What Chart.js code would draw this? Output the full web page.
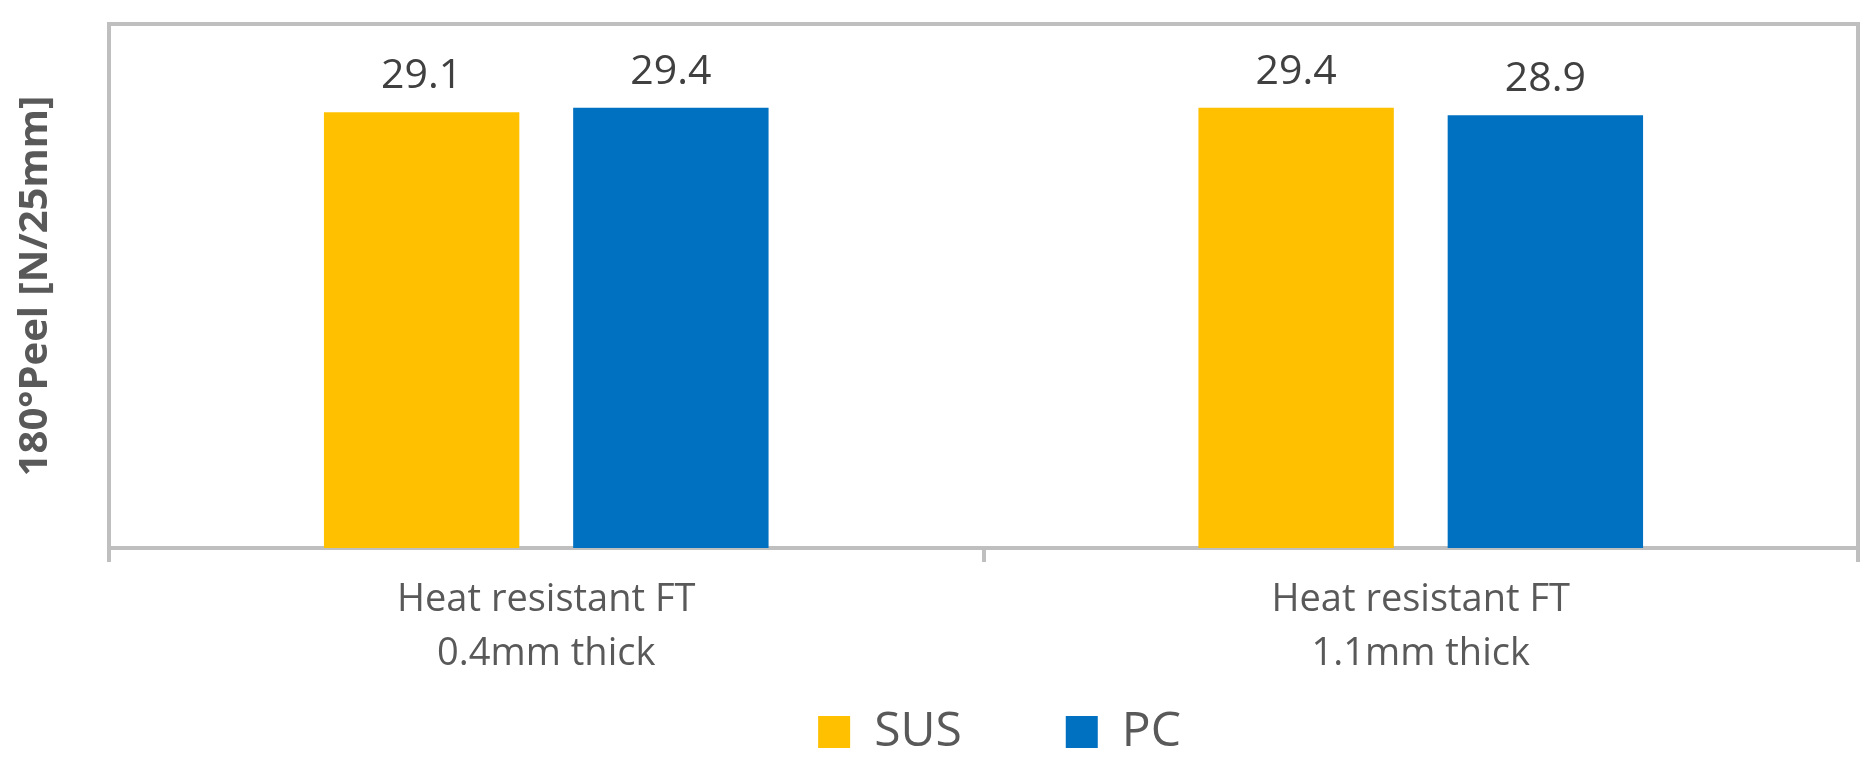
<!DOCTYPE html>
<html>
<head>
<meta charset="utf-8">
<script src="https://cdn.jsdelivr.net/npm/chart.js@4/dist/chart.umd.min.js"></script>
<style>
html,body{margin:0;padding:0;background:#fff;}
#wrap{width:1876px;height:767px;}
</style>
</head>
<body>
<div id="wrap"><canvas id="c" width="1876" height="767"></canvas></div>
<script>
const categories = [["Heat resistant FT","0.4mm thick"],["Heat resistant FT","1.1mm thick"]];
const seriesNames = ["SUS","PC"];
const susValues = [29.1, 29.4];
const pcValues = [29.4, 28.9];
const yMin = 0, yMax = 35;

const FONT = "'Open Sans', sans-serif";
const GRID = "#bfbfbf";
const LEGEND_PAD = 104;
const LEGEND_ITEM_Y = 708;

const frame = {
  id: 'frame',
  afterLayout(chart){
    const lg = chart.legend;
    if (lg) {
      lg.top = LEGEND_ITEM_Y - LEGEND_PAD;
      lg.bottom = chart.height;
      lg.height = lg.bottom - lg.top;
      lg.left += 16; lg.right += 16;
    }
  },
  afterDraw(chart){
    const {ctx, chartArea:a} = chart;
    ctx.save();
    ctx.strokeStyle = GRID; ctx.lineWidth = 4;
    ctx.beginPath();
    ctx.moveTo(a.left-2, a.top); ctx.lineTo(a.right, a.top); ctx.lineTo(a.right, a.bottom);
    ctx.stroke();
    ctx.restore();
  }
};
const valueLabels = {
  id: 'valueLabels',
  afterDatasetsDraw(chart){
    const ctx = chart.ctx;
    ctx.save();
    ctx.font = "41px " + FONT;
    ctx.fillStyle = "#404040";
    ctx.textAlign = "center";
    ctx.textBaseline = "alphabetic";
    chart.data.datasets.forEach((ds, i) => {
      chart.getDatasetMeta(i).data.forEach((el, j) => {
        ctx.fillText(ds.data[j].toFixed(1), el.x, el.y - 24);
      });
    });
    ctx.restore();
  }
};

new Chart(document.getElementById('c'), {
  type: 'bar',
  data: {
    labels: categories,
    datasets: [
      {label: seriesNames[0], data: susValues, backgroundColor: '#FFC000'},
      {label: seriesNames[1], data: pcValues, backgroundColor: '#0070C0'}
    ]
  },
  options: {
    responsive: false,
    animation: false,
    devicePixelRatio: 1,
    layout: {padding: {top: 24, right: 18, left: 0, bottom: 0}},
    datasets: {bar: {barPercentage: 0.784, categoryPercentage: 0.57}},
    plugins: {
      legend: {
        position: 'bottom',
        fullSize: false,
        maxHeight: 89,
        labels: {
          boxWidth: 32, boxHeight: 32, padding: LEGEND_PAD,
          color: '#595959',
          font: {family: FONT, size: 48}
        }
      },
      tooltip: {enabled: false}
    },
    scales: {
      x: {
        offset: true,
        grid: {display: true, drawOnChartArea: false, tickLength: 14, color: GRID, lineWidth: 4, offset: true},
        border: {color: GRID, width: 4},
        ticks: {color: '#595959', padding: 11, font: {family: FONT, size: 38, lineHeight: 1.42}},
        afterFit(s){ s.height = 130; }
      },
      y: {
        min: yMin, max: yMax,
        grid: {display: false},
        border: {color: GRID, width: 4},
        ticks: {display: false},
        title: {display: true, text: '180°Peel [N/25mm]', color: '#595959',
          font: {family: FONT, size: 40, weight: 'bold'}, padding: {top: 12, bottom: 0}},
        afterFit(s){ s.width = 109; }
      }
    }
  },
  plugins: [frame, valueLabels]
});
</script>
</body>
</html>
